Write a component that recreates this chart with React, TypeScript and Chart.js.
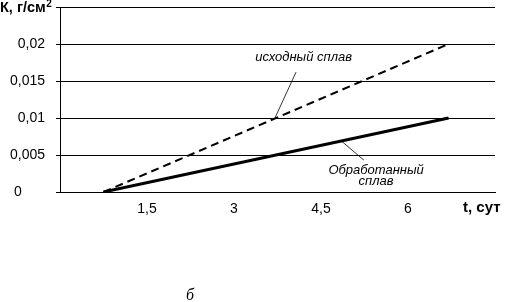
import { useEffect, useRef } from 'react';
import { Chart, registerables } from 'chart.js';

Chart.register(...registerables);

// Data
const days = [0.75, 6.7];
const initialAlloy = [0, 0.02];
const treatedAlloy = [0, 0.01];

const xMin = 0;
const xMax = 7.5;
const xStep = 1.5;
const yMin = 0;
const yMax = 0.025;
const yStep = 0.005;

const seriesNames = ['исходный сплав', 'Обработанный сплав'];
const yTitle = 'К, г/см';
const yTitleSup = '2';
const xTitle = 't, сут';
const figureLetter = 'б';

// Annotation anchors in data units
const noteInitial = { text: ['исходный сплав'], at: [4.2, 0.0182], from: [4.07, 0.0162], to: [3.7, 0.0099] };
const noteTreated = { text: ['Обработанный', 'сплав'], at: [5.45, 0.0029], from: [4.85, 0.0069], to: [5.24, 0.0043] };

const FONT = '"Liberation Sans", Arial, sans-serif';

const fmt = (v: number) => {
  const r = Number(v.toFixed(4));
  return r.toString().replace('.', ',');
};

const notesPlugin = {
  id: 'notes',
  afterDraw(chart: any) {
    const { ctx, scales } = chart;
    const x = scales.x;
    const y = scales.y;
    ctx.save();
    ctx.fillStyle = '#000';
    ctx.strokeStyle = '#000';

    // axis titles
    ctx.font = `bold 14.5px ${FONT}`;
    ctx.textAlign = 'left';
    ctx.textBaseline = 'middle';
    const ty = y.getPixelForValue(yMax) + 1;
    ctx.fillText(yTitle, 0, ty);
    const w = ctx.measureText(yTitle).width;
    ctx.font = `bold 10px ${FONT}`;
    ctx.fillText(yTitleSup, w + 0.5, ty - 4);
    ctx.font = `bold 15px ${FONT}`;
    ctx.fillText(xTitle, x.getPixelForValue(xMax) - 32, y.getPixelForValue(0) + 16);

    // annotations
    ctx.font = `italic 13px ${FONT}`;
    ctx.textAlign = 'center';
    ctx.lineWidth = 0.8;
    [noteInitial, noteTreated].forEach((n) => {
      const cx = x.getPixelForValue(n.at[0]);
      const cy = y.getPixelForValue(n.at[1]);
      n.text.forEach((t, i) => ctx.fillText(t, cx, cy + i * 11));
      ctx.beginPath();
      ctx.moveTo(x.getPixelForValue(n.from[0]), y.getPixelForValue(n.from[1]));
      ctx.lineTo(x.getPixelForValue(n.to[0]), y.getPixelForValue(n.to[1]));
      ctx.stroke();
    });

    // figure letter
    ctx.font = 'italic 16px "Liberation Serif", serif';
    ctx.textAlign = 'center';
    ctx.textBaseline = 'alphabetic';
    ctx.fillText(figureLetter, 190, 300);
    ctx.restore();
  },
};

export default function App() {
  const ref = useRef<HTMLCanvasElement | null>(null);

  useEffect(() => {
    if (!ref.current) return;
    Chart.defaults.font.family = FONT;
    Chart.defaults.color = '#000';
    const chart = new Chart(ref.current, {
      type: 'line',
      data: {
        datasets: [
          {
            label: seriesNames[0],
            data: days.map((d, i) => ({ x: d, y: initialAlloy[i] })),
            borderColor: '#000',
            borderWidth: 2,
            borderDash: [8, 5],
            pointRadius: 0,
            fill: false,
          },
          {
            label: seriesNames[1],
            data: days.map((d, i) => ({ x: d, y: treatedAlloy[i] })),
            borderColor: '#000',
            borderWidth: 3,
            pointRadius: 0,
            fill: false,
          },
        ],
      },
      options: {
        animation: false,
        responsive: false,
        layout: { padding: { top: 7, right: 12, left: 0, bottom: 0 } },
        plugins: { legend: { display: false }, tooltip: { enabled: false } },
        scales: {
          x: {
            type: 'linear',
            min: xMin,
            max: xMax,
            grid: { display: false },
            border: { display: true, color: '#000', width: 1 },
            ticks: {
              stepSize: xStep,
              padding: 1,
              maxRotation: 0,
              autoSkip: false,
              font: { size: 14 },
              color: '#000',
              callback: (v: any) => {
                const n = Number(v);
                if (Math.abs(n - xMin) < 1e-9 || Math.abs(n - xMax) < 1e-9) return '';
                return fmt(n);
              },
            },
            afterFit: (s: any) => {
              s.height = 110;
              s.paddingLeft = 0;
              s.paddingRight = 0;
            },
          },
          y: {
            type: 'linear',
            min: yMin,
            max: yMax,
            grid: { color: '#000', lineWidth: 1, tickLength: 4, drawTicks: true },
            border: { display: true, color: '#000', width: 1 },
            ticks: {
              stepSize: yStep,
              padding: 11,
              font: { size: 14 },
              color: '#000',
              callback: (v: any) => {
                const n = Number(v);
                if (Math.abs(n - yMax) < 1e-9) return '';
                if (Math.abs(n) < 1e-9) return '0      ';
                return fmt(n);
              },
            },
            afterFit: (s: any) => {
              s.width = 60;
              s.paddingTop = 0;
              s.paddingBottom = 0;
            },
          },
        },
      },
      plugins: [notesPlugin],
    } as any);
    return () => chart.destroy();
  }, []);

  return (
    <div style={{ position: 'absolute', left: 0, top: 0, width: 507, height: 302 }}>
      <canvas ref={ref} width={507} height={302} />
    </div>
  );
}
